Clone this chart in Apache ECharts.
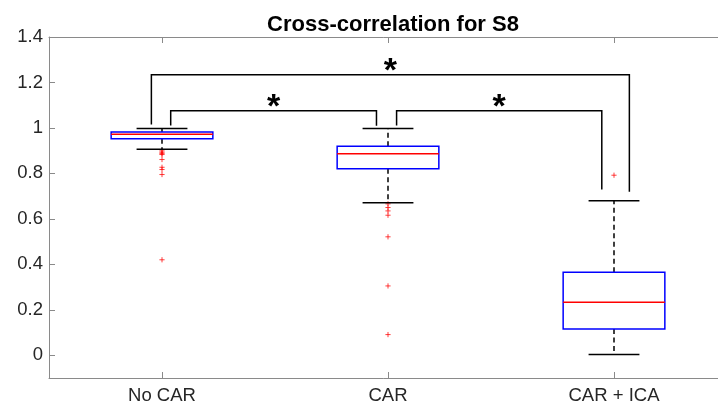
<!DOCTYPE html>
<html>
<head>
<meta charset="utf-8">
<script src="https://cdn.jsdelivr.net/npm/echarts@6/dist/echarts.min.js"></script>
<style>
  html, body { margin: 0; padding: 0; background: #fff; overflow: hidden; }
  #chart { width: 718px; height: 409px; }
</style>
</head>
<body>
<div id="chart"></div>
<script>
// Groups on the x axis (placed at x = 1, 2, 3)
const categories = ['No CAR', 'CAR', 'CAR + ICA'];

// Box statistics per group
const whiskerLow  = [0.906, 0.671, 0.003];
const quartile1   = [0.952, 0.820, 0.116];
const median      = [0.972, 0.886, 0.233];
const quartile3   = [0.982, 0.919, 0.365];
const whiskerHigh = [0.997, 0.997, 0.680];

// Outlying values per group
const outliersNoCAR  = [0.899, 0.893, 0.887, 0.883, 0.861, 0.827, 0.817, 0.795, 0.420];
const outliersCAR    = [0.666, 0.650, 0.635, 0.616, 0.521, 0.305, 0.091];
const outliersCARICA = [0.792];

// Y tick labels
const yTicks = [0, 0.2, 0.4, 0.6, 0.8, 1, 1.2, 1.4];

// Significance brackets (x in group units, y in correlation units)
const bracketFrom     = [0.953, 1.0385, 2.038];
const bracketTo       = [3.068, 1.949, 2.946];
const bracketTop      = [1.234, 1.076, 1.076];
const bracketFromEnd  = [1.015, 1.011, 1.011];
const bracketToEnd    = [0.719, 1.010, 0.729];
const bracketMark     = ['*', '*', '*'];

const FONT = 'Liberation Sans, Arial, Helvetica, sans-serif';
const AXIS_GRAY = '#8a8a8a';
const TEXT_GRAY = '#262626';
const BOX_HALF = 0.225;
const CAP_HALF = 0.1125;

const boxData = categories.map((c, i) =>
  [i + 1, whiskerLow[i], quartile1[i], median[i], quartile3[i], whiskerHigh[i]]);

const outlierData = [];
[outliersNoCAR, outliersCAR, outliersCARICA].forEach((arr, i) => {
  arr.forEach(v => outlierData.push([i + 1, v]));
});

const bracketData = bracketFrom.map((x, i) =>
  [x, bracketTo[i], bracketTop[i], bracketFromEnd[i], bracketToEnd[i], i]);

function renderBox(params, api) {
  const x = api.value(0);
  const lo = api.value(1), q1 = api.value(2), md = api.value(3), q3 = api.value(4), hi = api.value(5);
  const pL = api.coord([x - BOX_HALF, q3]);
  const pR = api.coord([x + BOX_HALF, q1]);
  const c = api.coord([x, md]);
  const pHi = api.coord([x, hi]);
  const pLo = api.coord([x, lo]);
  const pQ3 = api.coord([x, q3]);
  const pQ1 = api.coord([x, q1]);
  const capL = api.coord([x - CAP_HALF, hi])[0];
  const capR = api.coord([x + CAP_HALF, hi])[0];
  const dashed = { stroke: '#000', lineWidth: 1.5, lineDash: [5, 3.5] };
  const solid = { stroke: '#000', lineWidth: 1.5 };
  return {
    type: 'group',
    children: [
      { type: 'line', shape: { x1: c[0], y1: pQ3[1], x2: c[0], y2: pHi[1] }, style: dashed },
      { type: 'line', shape: { x1: c[0], y1: pQ1[1], x2: c[0], y2: pLo[1] }, style: dashed },
      { type: 'line', shape: { x1: capL, y1: pHi[1], x2: capR, y2: pHi[1] }, style: solid },
      { type: 'line', shape: { x1: capL, y1: pLo[1], x2: capR, y2: pLo[1] }, style: solid },
      { type: 'rect', shape: { x: pL[0], y: pL[1], width: pR[0] - pL[0], height: pR[1] - pL[1] },
        style: { fill: 'rgba(0,0,0,0)', stroke: '#0000ff', lineWidth: 1.5 } },
      { type: 'line', shape: { x1: pL[0], y1: c[1], x2: pR[0], y2: c[1] },
        style: { stroke: '#ff0000', lineWidth: 1.5 } }
    ]
  };
}

function renderOutlier(params, api) {
  const p = api.coord([api.value(0), api.value(1)]);
  const s = 2.6;
  const st = { stroke: 'rgba(255,0,0,0.75)', lineWidth: 1 };
  return {
    type: 'group',
    children: [
      { type: 'line', shape: { x1: p[0] - s, y1: p[1], x2: p[0] + s, y2: p[1] }, style: st },
      { type: 'line', shape: { x1: p[0], y1: p[1] - s, x2: p[0], y2: p[1] + s }, style: st }
    ]
  };
}

function renderBracket(params, api) {
  const x1 = api.value(0), x2 = api.value(1), top = api.value(2);
  const e1 = api.value(3), e2 = api.value(4);
  const idx = api.value(5);
  const a = api.coord([x1, e1]);
  const b = api.coord([x1, top]);
  const c = api.coord([x2, top]);
  const d = api.coord([x2, e2]);
  return {
    type: 'group',
    children: [
      { type: 'polyline', shape: { points: [a, b, c, d] },
        style: { stroke: '#000', lineWidth: 1.5, fill: null } },
      { type: 'text', x: (b[0] + c[0]) / 2, y: b[1] - 3,
        style: { text: bracketMark[idx], font: 'bold 34px ' + FONT, fill: '#000',
                 align: 'center', verticalAlign: 'middle' } }
    ]
  };
}

const chart = echarts.init(document.getElementById('chart'), null, { renderer: 'canvas' });
chart.setOption({
  backgroundColor: '#ffffff',
  animation: false,
  title: {
    text: 'Cross-correlation for S8',
    left: 388,
    top: 9,
    textAlign: 'center',
    textStyle: { fontFamily: FONT, fontSize: 22, fontWeight: 'bold', color: '#000' }
  },
  grid: { left: 49, top: 37, right: -9, bottom: 31, outerBoundsMode: 'none', containLabel: false },
  xAxis: [{
    type: 'value', min: 0.5, max: 3.5, position: 'bottom',
    axisLine: { show: true, onZero: false, lineStyle: { color: AXIS_GRAY, width: 1 } },
    axisTick: { show: true, inside: true, length: 6, customValues: [1, 2, 3],
                lineStyle: { color: AXIS_GRAY } },
    axisLabel: { customValues: [1, 2, 3], margin: 8,
                 formatter: v => categories[Math.round(v) - 1] || '',
                 fontFamily: FONT, fontSize: 18.5, color: TEXT_GRAY },
    splitLine: { show: false }
  }, {
    type: 'value', min: 0.5, max: 3.5, position: 'top',
    axisLine: { show: true, onZero: false, lineStyle: { color: AXIS_GRAY, width: 1 } },
    axisTick: { show: true, inside: true, length: 6, customValues: [1, 2, 3],
                lineStyle: { color: AXIS_GRAY } },
    axisLabel: { show: false },
    splitLine: { show: false }
  }],
  yAxis: {
    type: 'value', min: -0.1, max: 1.4,
    axisLine: { show: true, onZero: false, lineStyle: { color: AXIS_GRAY, width: 1 } },
    axisTick: { show: true, inside: true, length: 6, customValues: yTicks,
                lineStyle: { color: AXIS_GRAY } },
    axisLabel: { customValues: yTicks, margin: 6, formatter: v => String(+v.toFixed(1)),
                 fontFamily: FONT, fontSize: 18.5, color: TEXT_GRAY },
    splitLine: { show: false }
  },
  series: [{
    type: 'custom', name: 'box', renderItem: renderBox, data: boxData,
    encode: { x: 0, y: [1, 2, 3, 4, 5] }, clip: false, z: 3
  }, {
    type: 'custom', name: 'outliers', renderItem: renderOutlier, data: outlierData,
    encode: { x: 0, y: 1 }, z: 2
  }, {
    type: 'custom', name: 'brackets', renderItem: renderBracket, data: bracketData,
    encode: { x: [0, 1], y: [2, 3, 4] }, clip: false, z: 4
  }]
});
</script>
</body>
</html>
